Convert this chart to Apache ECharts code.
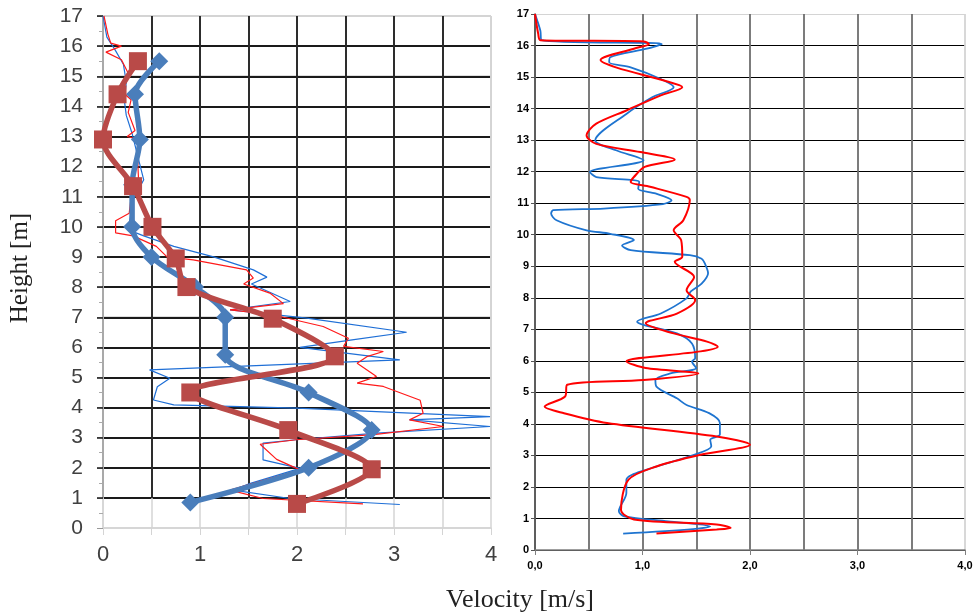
<!DOCTYPE html>
<html>
<head>
<meta charset="utf-8">
<script src="https://cdn.jsdelivr.net/npm/echarts@6/dist/echarts.min.js"></script>
<style>
  html, body { margin: 0; padding: 0; background: #fff; }
  #chart { width: 980px; height: 616px; }
</style>
</head>
<body>
<div id="chart"></div>
<script>
// [velocity, height] pairs
const leftTicksX = [0, 1, 2, 3, 4];
const leftBlueThick = [[0.58,15.5],[0.33,14.4],[0.38,12.9],[0.3,11.4],[0.3,10.0],[0.5,9.0],[0.95,8.0],[1.26,7.0],[1.26,5.75],[2.12,4.5],[2.77,3.25],[2.12,2.0],[0.9,0.85]];
const leftRedThick = [[0.36,15.5],[0.15,14.4],[0.0,12.9],[0.31,11.35],[0.51,10.0],[0.75,8.95],[0.86,8.0],[1.75,6.95],[2.39,5.7],[0.9,4.5],[1.91,3.25],[2.77,1.95],[2.0,0.8]];
const leftBlueThin = [[0,17],[0.04,16.3],[0.12,15.9],[0.21,15.4],[0.24,14.8],[0.22,14.2],[0.24,13.7],[0.3,13.1],[0.35,12.45],[0.42,11.56],[0.31,10.9],[0.26,9.9],[0.42,9.7],[0.73,9.35],[1.14,9.0],[1.55,8.57],[1.69,8.33],[1.53,8.1],[1.93,7.52],[1.31,7.24],[2.1,6.97],[3.13,6.5],[2.55,6.24],[2.03,6.0],[3.06,5.58],[0.48,5.25],[0.69,4.97],[0.56,4.69],[0.52,4.25],[0.73,4.09],[2.0,3.98],[3.99,3.7],[3.16,3.59],[3.99,3.37],[2.82,3.15],[1.99,2.93],[1.65,2.82],[1.65,2.26],[2.03,1.98],[1.52,1.48],[1.34,1.26],[1.93,0.98],[3.06,0.78]];
const leftRedThin = [[0.01,17],[0.05,16.4],[0.08,16.1],[0.19,16.0],[0.03,15.8],[0.19,15.55],[0.26,15.1],[0.19,14.5],[0.29,14.22],[0.26,13.8],[0.33,13.2],[0.25,13.0],[0.36,12.9],[0.36,12.0],[0.37,11.34],[0.29,11.0],[0.27,10.45],[0.13,10.2],[0.13,9.8],[0.31,9.7],[0.55,9.35],[0.66,9.0],[0.93,8.9],[1.48,8.57],[1.55,8.3],[1.45,8.1],[1.72,7.8],[1.86,7.45],[1.31,7.24],[1.75,7.08],[2.27,6.69],[2.53,6.3],[2.48,6.03],[2.89,5.86],[2.72,5.69],[2.62,5.47],[2.82,5.03],[2.62,4.81],[2.89,4.7],[3.27,4.24],[3.3,3.81],[3.16,3.59],[3.51,3.37],[2.79,3.1],[1.99,2.93],[1.62,2.78],[1.79,2.28],[2.03,1.93],[1.31,1.26],[1.65,0.98],[2.68,0.8]];
const rightBlue = [[0,17],[0.05,16.47],[0.06,16.17],[1.18,16.05],[1.04,15.9],[0.7,15.63],[0.69,15.47],[0.89,15.31],[1.17,14.94],[1.29,14.68],[1.09,14.36],[0.85,13.83],[0.56,12.99],[0.76,12.67],[1.01,12.36],[0.51,11.99],[0.57,11.83],[0.97,11.67],[0.96,11.46],[1.12,11.31],[1.27,11.09],[1.19,10.97],[0.64,10.83],[0.17,10.78],[0.15,10.67],[0.2,10.46],[0.48,10.14],[0.7,10.03],[0.92,9.83],[0.81,9.66],[0.89,9.51],[1.44,9.35],[1.55,9.24],[1.58,9.09],[1.61,8.78],[1.55,8.45],[1.45,8.2],[1.41,7.98],[1.17,7.5],[0.95,7.24],[1.01,7.14],[1.32,6.87],[1.46,6.55],[1.49,6.08],[1.46,5.98],[1.5,5.77],[1.26,5.6],[1.12,5.39],[1.13,5.18],[1.32,4.81],[1.41,4.6],[1.62,4.34],[1.72,4.03],[1.72,3.66],[1.63,3.5],[1.64,3.29],[1.48,3.02],[1.04,2.55],[0.85,2.23],[0.85,1.81],[0.78,1.23],[0.83,1.07],[1.24,0.91],[1.63,0.75],[1.47,0.66],[0.82,0.52]];
const rightRed = [[0,17],[0.03,16.37],[0.05,16.17],[1.01,16.13],[1.06,16.05],[0.92,15.9],[0.61,15.54],[0.76,15.3],[1.2,14.89],[1.37,14.68],[1.17,14.42],[0.85,13.94],[0.57,13.52],[0.48,13.15],[0.57,12.88],[0.98,12.62],[1.3,12.38],[1.02,12.15],[0.92,11.83],[0.89,11.67],[1.07,11.52],[1.41,11.2],[1.44,11.1],[1.38,10.46],[1.29,10.14],[1.36,9.82],[1.37,9.3],[1.3,9.14],[1.48,8.66],[1.41,8.24],[1.49,7.93],[1.32,7.5],[1.03,7.19],[1.29,6.87],[1.6,6.61],[1.7,6.45],[1.54,6.3],[0.85,5.98],[1.03,5.77],[1.52,5.6],[1.01,5.39],[0.3,5.24],[0.28,4.87],[0.09,4.55],[0.27,4.34],[0.67,4.03],[1.69,3.6],[2.0,3.34],[1.54,3.02],[1.13,2.65],[0.87,2.23],[0.8,1.28],[0.92,0.97],[1.69,0.81],[1.82,0.7],[1.69,0.65],[1.13,0.52]];

const chart = echarts.init(document.getElementById('chart'));

const black = '#1a1a1a', light = '#d4d4d4', midGray = '#6e6e6e';
const rep = (c, n) => Array(n).fill(c);

const option = {
  animation: false,
  grid: [
    { left: 103, top: 16, width: 388, height: 512 },   // left, full 0..17
    { left: 103, top: 16, width: 388, height: 482 },   // left, black lines 1..17
    { left: 535, top: 14, width: 430, height: 536 }    // right
  ],
  xAxis: [
    {
      gridIndex: 0, type: 'value', min: 0, max: 4, interval: 0.5,
      axisLine: { lineStyle: { color: light, width: 1.5 } },
      axisTick: { show: true, length: 7, lineStyle: { color: light } },
      axisLabel: {
        margin: 16, fontSize: 22, color: '#404040', fontFamily: 'Liberation Sans Narrow, Liberation Sans',
        formatter: v => leftTicksX.includes(v) ? String(v) : ''
      },
      splitLine: { lineStyle: { color: light, width: 1.5 } }
    },
    {
      gridIndex: 1, type: 'value', min: 0, max: 4, interval: 0.5,
      axisLine: { show: false }, axisTick: { show: false }, axisLabel: { show: false },
      splitLine: { lineStyle: { color: rep(black, 8).concat([light]), width: 1.8 } }
    },
    {
      gridIndex: 2, type: 'value', min: 0, max: 4, interval: 1,
      axisLine: { lineStyle: { color: '#808080', width: 1.5 } },
      axisTick: { show: true, length: 5, lineStyle: { color: '#808080' } },
      axisLabel: {
        margin: 10, fontSize: 11, fontWeight: 'bold', color: '#000', fontFamily: 'Liberation Sans',
        formatter: v => v.toFixed(1).replace('.', ',')
      },
      splitLine: { lineStyle: { color: rep(midGray, 4).concat([light]), width: 1.8 } },
      minorTick: { show: false, splitNumber: 2 },
      minorSplitLine: { show: true, lineStyle: { color: midGray, width: 1.8 } }
    }
  ],
  yAxis: [
    {
      gridIndex: 0, type: 'value', min: 0, max: 17, interval: 1,
      axisLine: { lineStyle: { color: light, width: 1.5 } },
      axisTick: { show: true, length: 6, lineStyle: { color: '#999' } },
      minorTick: { show: true, splitNumber: 2, length: 4, lineStyle: { color: '#aaa' } },
      axisLabel: { margin: 20, fontSize: 21, color: '#404040', fontFamily: 'Liberation Sans Narrow, Liberation Sans' },
      splitLine: { lineStyle: { color: light, width: 1.5 } }
    },
    {
      gridIndex: 1, type: 'value', min: 1, max: 17, interval: 1,
      axisLine: { show: false }, axisLabel: { show: false },
      axisTick: { show: true, length: 6, lineStyle: { color: black, width: 1.5 } },
      splitLine: { lineStyle: { color: rep(black, 16).concat([light]), width: 1.8 } }
    },
    {
      gridIndex: 2, type: 'value', min: 0, max: 17, interval: 1,
      axisLine: { lineStyle: { color: '#555', width: 1.5 } },
      axisTick: { show: true, length: 4, lineStyle: { color: '#555' } },
      axisLabel: { margin: 6, fontSize: 11, fontWeight: 'bold', color: '#000', fontFamily: 'Liberation Sans' },
      splitLine: { lineStyle: { color: rep('#000', 17).concat([light]), width: 1 } }
    }
  ],
  graphic: [
    {
      type: 'text', x: 20, y: 268, rotation: Math.PI / 2,
      style: { text: 'Height [m]', font: '25px "Liberation Serif", serif', fill: '#222', textAlign: 'center', textVerticalAlign: 'middle' }
    },
    {
      type: 'text', x: 520, y: 600,
      style: { text: 'Velocity [m/s]', font: '26px "Liberation Serif", serif', fill: '#222', textAlign: 'center', textVerticalAlign: 'middle' }
    }
  ],
  series: [
    {
      type: 'line', xAxisIndex: 0, yAxisIndex: 0, data: leftBlueThin,
      showSymbol: false, lineStyle: { color: '#1f6fd6', width: 1.2 }, z: 3
    },
    {
      type: 'line', xAxisIndex: 0, yAxisIndex: 0, data: leftRedThin,
      showSymbol: false, lineStyle: { color: '#ff1a1a', width: 1.2 }, z: 3
    },
    {
      type: 'line', xAxisIndex: 0, yAxisIndex: 0, data: leftBlueThick, smooth: 0.3,
      symbol: 'diamond', symbolSize: 18,
      lineStyle: { color: '#4a7ebb', width: 5.5 }, itemStyle: { color: '#4a7ebb' }, z: 4
    },
    {
      type: 'line', xAxisIndex: 0, yAxisIndex: 0, data: leftRedThick, smooth: 0.3,
      symbol: 'rect', symbolSize: 18,
      lineStyle: { color: '#b94a48', width: 5.5 }, itemStyle: { color: '#b94a48' }, z: 5
    },
    {
      type: 'line', xAxisIndex: 2, yAxisIndex: 2, data: rightBlue, smooth: 0.3,
      showSymbol: false, lineStyle: { color: '#1e74d0', width: 1.8 }
    },
    {
      type: 'line', xAxisIndex: 2, yAxisIndex: 2, data: rightRed, smooth: 0.3,
      showSymbol: false, lineStyle: { color: '#ff0000', width: 2 }
    }
  ]
};

chart.setOption(option);
</script>
</body>
</html>
